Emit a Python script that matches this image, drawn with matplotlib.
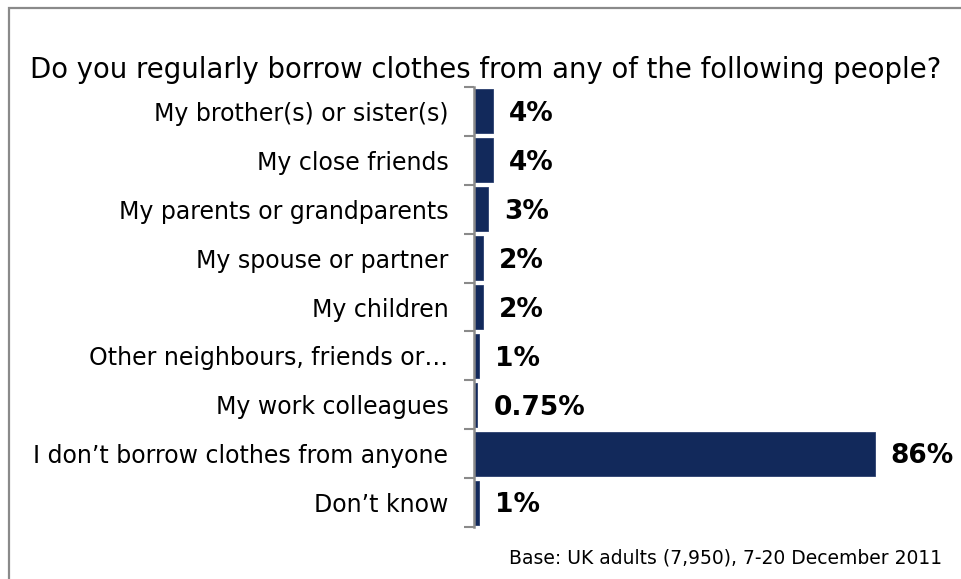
import matplotlib
matplotlib.use("Agg")
import matplotlib.pyplot as plt
from matplotlib.patches import Rectangle
import numpy as np

# Survey answers (top to bottom) and share of respondents (%)
categories = [
    "My brother(s) or sister(s)",
    "My close friends",
    "My parents or grandparents",
    "My spouse or partner",
    "My children",
    "Other neighbours, friends or…",
    "My work colleagues",
    "I don’t borrow clothes from anyone",
    "Don’t know",
]
values = [4, 4, 3, 2, 2, 1, 0.75, 86, 1]

title = "Do you regularly borrow clothes from any of the following people?"
base_note = "Base: UK adults (7,950), 7-20 December 2011"

BAR_COLOR = "#12295b"
AXIS_COLOR = "#8a8a8a"

W, H = 962, 579
fig = plt.figure(figsize=(W / 100, H / 100), dpi=100)
fig.patch.set_facecolor("white")

# plot area in pixel terms
ax_left, ax_right = 474, 962
ax_top, ax_bottom = 87, 527
ax = fig.add_axes([ax_left / W, 1 - ax_bottom / H,
                   (ax_right - ax_left) / W, (ax_bottom - ax_top) / H])

y = np.arange(len(categories))
bars = ax.barh(y, values, height=0.9, color=BAR_COLOR, edgecolor="#2a3f6e",
               linewidth=0.6)
ax.set_ylim(len(categories) - 0.5, -0.5)
ax.set_xlim(0, 104.7)

# value labels, nudged slightly below the bar centre line
labels = ax.bar_label(bars, labels=[f"{v:g}%" for v in values], padding=11.5,
                      fontsize=19, fontweight="bold", color="black")
for t in labels:
    t.xyann = (11.5, -2)

# category boundaries as ticks, names centred on each bar
ax.set_yticks(np.arange(-0.5, len(categories), 1.0))
ax.set_yticklabels([])
ax.tick_params(axis="y", which="major", length=7, width=1.5, color=AXIS_COLOR,
               direction="out")
ax.set_yticks(y, minor=True)
ax.set_yticklabels(categories, minor=True, fontsize=17, color="black")
ax.tick_params(axis="y", which="minor", length=0, pad=18.5)

ax.set_xticks([])
for side in ("top", "right", "bottom"):
    ax.spines[side].set_visible(False)
ax.spines["left"].set_color(AXIS_COLOR)
ax.spines["left"].set_linewidth(1.8)
ax.patch.set_alpha(0)

# title and source note
fig.text(30 / W, 1 - 78 / H, title, fontsize=19.8, color="black",
         ha="left", va="baseline")
fig.text(942 / W, 1 - 563 / H, base_note, fontsize=13.5, color="black",
         ha="right", va="baseline")

# outer frame (runs off the right and bottom edges)
fig.patches.append(Rectangle((8.5 / W, -0.05), 1.2, 1 - 8 / H + 0.05,
                             transform=fig.transFigure, fill=False,
                             edgecolor=AXIS_COLOR, linewidth=1.6))

fig.savefig("out.png", dpi=100)
